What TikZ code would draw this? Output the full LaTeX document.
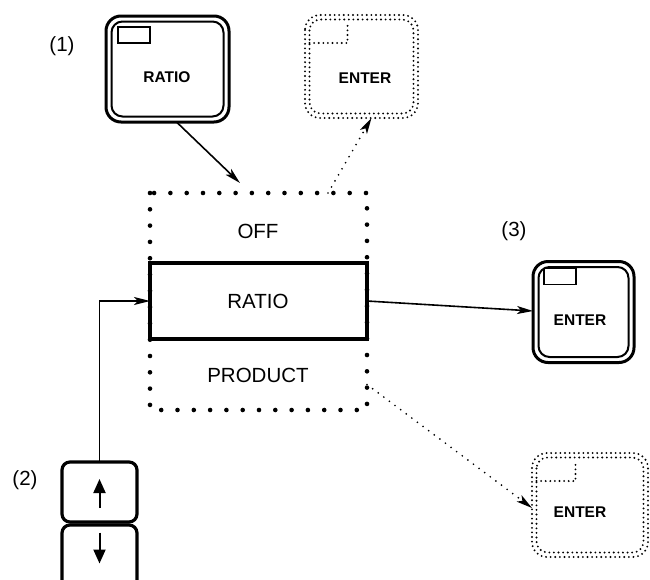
\documentclass[tikz,border=0pt]{standalone}
\usepackage{fontspec}
\setmainfont{Liberation Sans}
\usetikzlibrary{arrows.meta,calc}
\begin{document}
\begin{tikzpicture}[x=1pt,y=-1pt,
  lab/.style={font=\fontsize{20.5}{21}\selectfont, inner sep=0pt},
  keytxt/.style={font=\bfseries\fontsize{15.5}{16}\selectfont, inner sep=0pt},
  keyA/.style={draw, line width=3pt, rounded corners=15pt, inner sep=0pt, outer sep=0pt},
  keyin/.style={line width=2pt, rounded corners=11pt},
  blank/.style={inner sep=0pt, outer sep=0pt},
  dotA/.style={line width=2.1pt, dash pattern=on 0pt off 4.6pt, line cap=round},
  bigdot/.style={line width=4.6pt, dash pattern=on 0pt off 16.3pt, line cap=round},
  arr/.style={line width=1.6pt, -{Stealth[length=16pt,width=8pt,inset=4pt]}},
  darr/.style={line width=1.9pt, dash pattern=on 0pt off 7pt, line cap=round, -{Stealth[length=16pt,width=8pt,inset=4pt]}},
  smallkey/.style={draw, line width=3.2pt, rounded corners=8pt, inner sep=0pt, outer sep=0pt, minimum width=75pt}
]
\useasboundingbox (0,0) rectangle (650,579);

% (1) RATIO key
\node[lab] (l1) at (62,46) {(1)};
\node[keyA, minimum width=123pt, minimum height=106pt] (k1) at (167.5,69) {};
\draw[keyin] ([xshift=5.5pt,yshift=-5.5pt]k1.north west) rectangle ([xshift=-5.5pt,yshift=5.5pt]k1.south east);
\draw[line width=1.8pt] ([xshift=12pt,yshift=-11pt]k1.north west) rectangle ++(32,16);
\node[keytxt] (k1t) at (167,77) {RATIO};

% top dotted ENTER key
\node[blank, minimum width=113pt, minimum height=103pt] (e1) at (361.5,66.5) {};
\draw[dotA, rounded corners=15pt] (e1.north west) rectangle (e1.south east);
\draw[dotA, rounded corners=11pt] ([xshift=4.5pt,yshift=-4.5pt]e1.north west) rectangle ([xshift=-4.5pt,yshift=4.5pt]e1.south east);
\draw[dotA] ([xshift=4.5pt,yshift=-28pt]e1.north west) -- ++(38,0) -- ++(0,-18);
\node[keytxt] (e1t) at (365,78) {ENTER};

% menu box
\node[blank, minimum width=217pt, minimum height=217pt] (menu) at (258.5,301.5) {};
\draw[bigdot] (menu.north west) rectangle (menu.south east);
\node[draw, line width=4pt, blank, minimum width=217pt, minimum height=76pt] (sel) at (258.5,301) {};
\node[lab] (off) at (258,231) {OFF};
\node[lab] (rat) at (258,301) {RATIO};
\node[lab] (prod) at (258,375) {PRODUCT};

% (3) ENTER key
\node[lab] (l3) at (514,231) {(3)};
\node[keyA, minimum width=101pt, minimum height=101pt] (k3) at (583.5,312) {};
\draw[keyin] ([xshift=5.5pt,yshift=-5.5pt]k3.north west) rectangle ([xshift=-5.5pt,yshift=5.5pt]k3.south east);
\draw[line width=1.8pt] ([xshift=11pt,yshift=-7pt]k3.north west) rectangle ++(32,16);
\node[keytxt] (k3t) at (580,320) {ENTER};

% bottom dotted ENTER key
\node[blank, minimum width=116pt, minimum height=104pt] (e2) at (590,505) {};
\draw[dotA, rounded corners=15pt] (e2.north west) rectangle (e2.south east);
\draw[dotA, rounded corners=11pt] ([xshift=4.5pt,yshift=-4.5pt]e2.north west) rectangle ([xshift=-4.5pt,yshift=4.5pt]e2.south east);
\draw[dotA] ([xshift=4.5pt,yshift=-28pt]e2.north west) -- ++(39,0) -- ++(0,-19);
\node[keytxt] (e2t) at (580,512) {ENTER};

% (2) arrow keys
\node[lab] (l2) at (25,480) {(2)};
\node[smallkey, minimum height=60pt] (up) at (99.5,492) {};
\node[smallkey, minimum height=65pt] (dn) at (99.5,557.5) {};
\draw[line width=2pt, -{Triangle[length=14pt,width=12pt]}] ([yshift=-16pt]up.center) -- ([yshift=13pt]up.center);
\draw[line width=2pt, -{Triangle[length=14pt,width=12pt]}] ([yshift=25pt]dn.center) -- ([yshift=-6pt]dn.center);

% connectors
\coordinate (c1) at (240,183);
\draw[arr] ([xshift=9pt]k1.south) -- (c1);
\draw[darr] ([xshift=-39pt]menu.north east) -- ([xshift=10pt]e1.south);
\draw[arr] (sel.east) -- (k3.west |- 0,311);
\draw[darr] ([yshift=-83pt]menu.east) -- ([yshift=-3pt]e2.west);
\draw[arr, line width=1.3pt] (up.north) -- (up.north |- sel.west) -- (sel.west);
\end{tikzpicture}
\end{document}
